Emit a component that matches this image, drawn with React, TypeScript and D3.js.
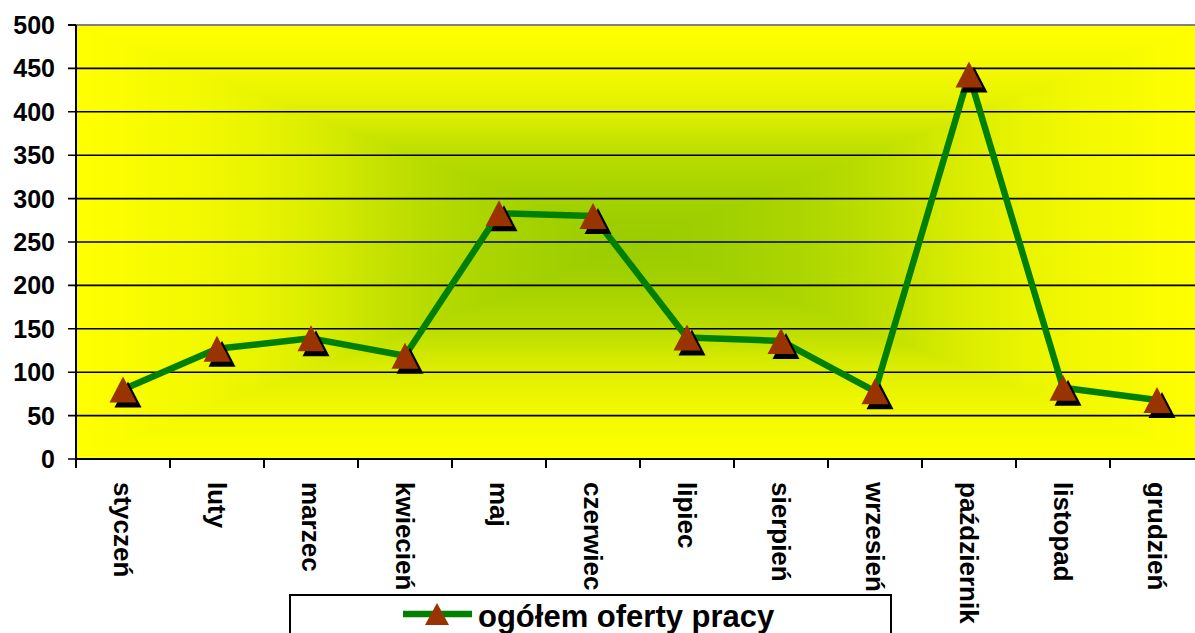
import React from "react";
import * as d3 from "d3";

const categories = ["styczeń", "luty", "marzec", "kwiecień", "maj", "czerwiec", "lipiec", "sierpień", "wrzesień", "październik", "listopad", "grudzień"];
const values = [80, 127, 139, 119, 283, 280, 140, 136, 78, 443, 82, 68];
const yTicks = [0, 50, 100, 150, 200, 250, 300, 350, 400, 450, 500];
const seriesName = "ogółem oferty pracy";

const W = 1195, H = 633;
const left = 76, right = 1204, top = 25, bottom = 459;
const FONT = "'Liberation Sans', Arial, Helvetica, sans-serif";

export default function App() {
  const x = d3.scaleBand<string>().domain(categories).range([left, right]).padding(0);
  const y = d3.scaleLinear().domain([0, 500]).range([bottom, top]);
  const cx = (c: string) => (x(c) as number) + x.bandwidth() / 2;
  const line = d3.line<number>().x((_, i) => cx(categories[i])).y((v) => y(v));
  const tri = (px: number, py: number, w = 27, h = 26) =>
    `M${px},${py - h / 2}L${px + w / 2},${py + h / 2}L${px - w / 2},${py + h / 2}Z`;
  const boundaries = d3.range(categories.length + 1).map((i) => left + i * x.bandwidth());

  // rectangular "from center" gradient as nested rectangles
  const gcx = (left + right) / 2, gcy = (top + bottom) / 2;
  const hw = (right - left) / 2, hh = (bottom - top) / 2;
  const color = d3.interpolateRgb("#99CC00", "#FFFF00");
  const ease = (t: number) => 0.5 * t + 0.5 * d3.easeCubicInOut(t);
  const steps = d3.range(160, 0, -1).map((i) => i / 160);

  return (
    <svg width={W} height={H} style={{ position: "absolute", left: 0, top: 0, background: "#fff" }}>
      <g shapeRendering="crispEdges">
        {steps.map((t) => (
          <rect key={t} x={gcx - hw * t} y={gcy - hh * t} width={2 * hw * t} height={2 * hh * t} fill={color(ease(t))} />
        ))}
      </g>
      {yTicks.map((t) => (
        <line key={t} x1={left - 8} x2={right} y1={y(t)} y2={y(t)}
          stroke={t === 500 ? "#808080" : "#000"} strokeWidth={t === 500 ? 2 : 1.6} />
      ))}
      <line x1={left - 8} x2={left} y1={y(500)} y2={y(500)} stroke="#000" strokeWidth={2} />
      {yTicks.map((t) => (
        <text key={"l" + t} x={55} y={y(t)} dy="0.36em" textAnchor="end" fontFamily={FONT}
          fontWeight="bold" fontSize={25} fill="#000">{t}</text>
      ))}
      <line x1={left} x2={left} y1={top} y2={bottom} stroke="#000" strokeWidth={2} />
      <line x1={left} x2={right} y1={bottom} y2={bottom} stroke="#000" strokeWidth={2} />
      {boundaries.map((b, i) => (
        <line key={"t" + i} x1={b} x2={b} y1={bottom} y2={bottom + 9} stroke="#000" strokeWidth={2} />
      ))}
      {categories.map((c) => (
        <text key={c} transform={`translate(${cx(c)},482) rotate(90)`} dy="0.36em" textAnchor="start"
          fontFamily={FONT} fontWeight="bold" fontSize={26} fill="#000">{c}</text>
      ))}
      <path d={line(values) as string} fill="none" stroke="#008000" strokeWidth={6.5} strokeLinejoin="round" />
      {values.map((v, i) => (
        <g key={"m" + i}>
          <path d={tri(cx(categories[i]) + 5, y(v) + 5)} fill="#000" />
          <path d={tri(cx(categories[i]), y(v))} fill="#993300" />
        </g>
      ))}
      <rect x={290} y={595} width={601} height={60} fill="#fff" stroke="#000" strokeWidth={2} />
      <line x1={403} x2={472} y1={614} y2={614} stroke="#008000" strokeWidth={6.5} />
      <path d={tri(437, 614, 24, 22)} fill="#993300" />
      <text x={478} y={627} fontFamily={FONT} fontWeight="bold" fontSize={31} fill="#000">{seriesName}</text>
    </svg>
  );
}
